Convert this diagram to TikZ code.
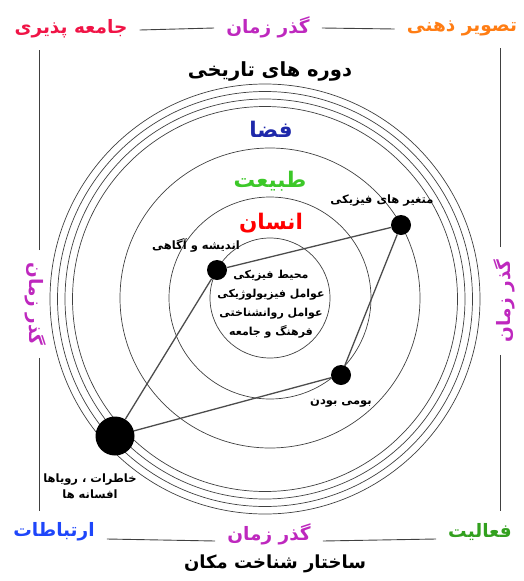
\documentclass[tikz,border=0pt]{standalone}
\usepackage{fontspec}
\newfontfamily\farsi[Script=Arabic]{DejaVu Sans}
\TeXXeTstate=1
\newcommand{\fa}[1]{\beginR#1\endR}
\usetikzlibrary{positioning}

\definecolor{tagred}{RGB}{240,20,70}
\definecolor{tagmag}{RGB}{190,40,190}
\definecolor{tagorange}{RGB}{255,125,20}
\definecolor{tagblue}{RGB}{30,70,250}
\definecolor{taggreen}{RGB}{50,160,30}
\definecolor{spaceblue}{RGB}{30,40,170}
\definecolor{naturegreen}{RGB}{60,200,40}

\begin{document}
\begin{tikzpicture}[
    x=1pt, y=-1pt,
    ring/.style={draw=black!75, line width=0.7pt},
    link/.style={draw=black!70, line width=1.3pt},
    dot/.style={circle, fill=black, inner sep=0pt, minimum size=20pt},
    bigdot/.style={dot, minimum size=39pt},
    corner/.style={font=\farsi\bfseries\fontsize{18.5}{22}\selectfont, inner sep=12pt},
    title/.style={font=\farsi\bfseries\fontsize{19.5}{22}\selectfont},
    zone/.style={font=\farsi\bfseries\fontsize{21.5}{24}\selectfont},
    note/.style={font=\farsi\bfseries\fontsize{11.5}{16}\selectfont, align=center, inner sep=1pt},
    core/.style={note, font=\farsi\bfseries\fontsize{11}{19}\selectfont},
    frame/.style={draw=black!75, line width=0.9pt}
]
\useasboundingbox (0,0) rectangle (524,581);

% circles
\coordinate (c) at (270,298);
\coordinate (co) at (265,299);
\foreach \r in {60,101,150}
    \draw[ring] (c) circle[radius=\r];
\foreach \r in {192.5,200,207.5,215}
    \draw[ring] (co) circle[radius=\r];

% zones
\node[title] (era) at (270,71) {\fa{دوره های تاریخی}};
\node[zone, text=spaceblue] (space) at (271,129) {\fa{فضا}};
\node[zone, text=naturegreen] (nature) at (270,181) {\fa{طبیعت}};
\node[zone, text=red] (human) at (271,223) {\fa{انسان}};
\node[core] (core) at (271,304) {\fa{محیط فیزیکی}\\\fa{عوامل فیزیولوژیکی}\\\fa{عوامل روانشناختی}\\\fa{فرهنگ و جامعه}};

% dots
\node[dot] (mind) at (217,270) {};
\node[dot] (phys) at (401,225) {};
\node[dot] (native) at (341,375) {};
\node[bigdot] (memory) at (115,436) {};

\node[note, above=6pt of mind, xshift=-21pt] (mindtxt) {\fa{اندیشه و آگاهی}};
\node[note, above=7pt of phys, xshift=-19pt] (phystxt) {\fa{متغیر های فیزیکی}};
\node[note, below=13pt of native] (nativetxt) {\fa{بومی بودن}};
\node[note, below=17pt of memory, xshift=-25pt] (memorytxt) {\fa{خاطرات ، رویاها}\\\fa{افسانه ها}};

\draw[link] (memory) -- (mind);
\draw[link] (mind) -- (phys);
\draw[link] (phys) -- (native);
\draw[link] (native) -- (memory);

% frame
\node[corner, text=tagred] (tl) at (71,29) {\fa{جامعه پذیری}};
\node[corner, text=tagmag] (tc) at (268,27) {\fa{گذر زمان}};
\node[corner, text=tagorange] (tr) at (462,28) {\fa{تصویر ذهنی}};
\node[corner, text=tagblue] (bl) at (54,532) {\fa{ارتباطات}};
\node[corner, text=tagmag] (bc) at (269,534) {\fa{گذر زمان}};
\node[corner, text=taggreen] (br) at (480,532) {\fa{فعالیت}};
\node[corner, text=tagmag, rotate=-90] (lz) at (36,304) {\fa{گذر زمان}};
\node[corner, text=tagmag, rotate=90] (rz) at (504,301) {\fa{گذر زمان}};

\node[title, font=\farsi\bfseries\fontsize{18}{22}\selectfont] (place) at (275,564) {\fa{ساختار شناخت مکان}};

\draw[frame] ([yshift=-1pt]tl.east) -- ([yshift=-1pt]tc.west);
\draw[frame] ([yshift=-1pt]tc.east) -- ([yshift=-1pt]tr.west);
\draw[frame] ([yshift=-7pt]bl.east) -- ([yshift=-7pt]bc.west);
\draw[frame] ([yshift=-7pt]bc.east) -- ([yshift=-7pt]br.west);
\draw[frame] ([xshift=3pt]lz.west) -- ([xshift=3pt]lz.west |- tl.south);
\draw[frame] ([xshift=3pt]lz.east) -- ([xshift=3pt]lz.east |- bl.north);
\draw[frame] ([xshift=-4pt]rz.east) -- ([xshift=-4pt]rz.east |- tr.south);
\draw[frame] ([xshift=-4pt]rz.west) -- ([xshift=-4pt]rz.west |- br.north);
\end{tikzpicture}
\end{document}
